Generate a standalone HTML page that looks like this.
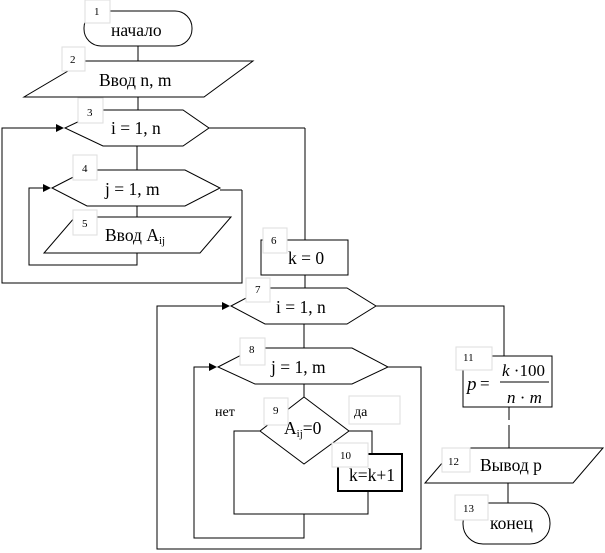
<!DOCTYPE html>
<html><head><meta charset="utf-8"><style>
html,body{margin:0;padding:0;background:#fff;}
svg{display:block;}
text{font-family:"Liberation Serif",serif;fill:#000;}
.n{font-size:11px;}
.t{font-size:17.5px;}
.lb{fill:#fff;stroke:#ddd;stroke-width:1;}
</style></head><body>
<svg width="605" height="553" viewBox="0 0 605 553" xmlns="http://www.w3.org/2000/svg">
<defs><marker id="a" markerWidth="8" markerHeight="8" refX="7" refY="4" orient="auto" markerUnits="userSpaceOnUse"><path d="M0,0 L8,4 L0,8 z" fill="#000"/></marker></defs>
<g fill="none" stroke="#000" stroke-width="1">
<rect x="84" y="11" width="108" height="35" rx="17" fill="#fff"/>
<line x1="138" y1="46" x2="138" y2="61"/>
<polygon points="85,61 253,61 204,97 24,97" fill="#fff"/>
<line x1="138" y1="97" x2="138" y2="110"/>
<polygon points="65,128 103,110 183,110 209,128 183,146 103,146" fill="#fff"/>
<line x1="209" y1="128" x2="305" y2="128"/>
<line x1="305" y1="128" x2="305" y2="240"/>
<line x1="137" y1="146" x2="137" y2="170"/>
<polyline points="242,190 242,283 2,283 2,128 63,128" marker-end="url(#a)"/>
<polygon points="52,188 87,170 185,170 220,188 185,206 87,206" fill="#fff"/>
<line x1="220" y1="190" x2="242" y2="190"/>
<line x1="137" y1="206" x2="137" y2="217"/>
<polygon points="75,217 231,217 200,253 44,253" fill="#fff"/>
<polyline points="137,253 137,265 29,265 29,188 50,188" marker-end="url(#a)"/>
<rect x="261" y="240" width="87" height="35" fill="#fff"/>
<line x1="305" y1="275" x2="305" y2="288"/>
<polygon points="231,306 265,288 347,288 376,306 347,324 265,324" fill="#fff"/>
<polyline points="376,306 504,306 504,356"/>
<line x1="304" y1="324" x2="304" y2="348"/>
<polyline points="388,367 421,367 421,549 157,549 157,306 229,306" marker-end="url(#a)"/>
<polygon points="218,367 255,348 352,348 388,367 352,384 255,384" fill="#fff"/>
<line x1="304" y1="384" x2="304" y2="397"/>
<polygon points="304,397 349,431 304,464 260,431" fill="#fff"/>
<polyline points="349,431 372,431 372,454"/>
<polyline points="368,491 368,514 234,514 234,431 260,431"/>
<polyline points="304,514 304,538 194,538 194,367 216,367" marker-end="url(#a)"/>
<rect x="338" y="454" width="64" height="37" fill="#fff" stroke-width="2"/>
<rect x="463" y="356" width="89" height="51" fill="#fff"/>
<line x1="509" y1="407" x2="509" y2="420"/>
<line x1="509" y1="425" x2="509" y2="448"/>
<polygon points="455,448 603,448 573,483 425,483" fill="#fff"/>
<line x1="508" y1="483" x2="508" y2="503"/>
<rect x="463" y="503" width="87" height="41" rx="20" fill="#fff"/>
</g>
<rect class="lb" x="85" y="0" width="25" height="23"/>
<rect class="lb" x="62" y="47" width="23" height="24"/>
<rect class="lb" x="78" y="98" width="25" height="25"/>
<rect class="lb" x="73" y="155" width="24" height="25"/>
<rect class="lb" x="73" y="210" width="24" height="25"/>
<rect class="lb" x="263" y="228" width="24" height="25"/>
<rect class="lb" x="246" y="278" width="24" height="24"/>
<rect class="lb" x="240" y="338" width="25" height="27"/>
<rect class="lb" x="264" y="398" width="24" height="27"/>
<rect class="lb" x="349" y="396" width="51" height="28"/>
<rect class="lb" x="332" y="443" width="36" height="24"/>
<rect class="lb" x="456" y="347" width="36" height="23"/>
<rect class="lb" x="442" y="448" width="28" height="24"/>
<rect class="lb" x="455" y="495" width="33" height="25"/>
<text class="n" x="94" y="15">1</text>
<text class="n" x="70" y="63">2</text>
<text class="n" x="87" y="116">3</text>
<text class="n" x="82" y="172">4</text>
<text class="n" x="82" y="227">5</text>
<text class="n" x="271" y="244">6</text>
<text class="n" x="255" y="293">7</text>
<text class="n" x="249" y="353">8</text>
<text class="n" x="273" y="414">9</text>
<text class="n" x="340" y="459">10</text>
<text class="n" x="463" y="361">11</text>
<text class="n" x="448" y="465">12</text>
<text class="n" x="463" y="512">13</text>
<text class="t" x="111" y="36">начало</text>
<text class="t" x="99" y="86">Ввод n, m</text>
<text class="t" x="111" y="134">i = 1, n</text>
<text class="t" x="105" y="195">j = 1, m</text>
<text class="t" x="105" y="241">Ввод A<tspan font-size="11" dy="3">ij</tspan></text>
<text class="t" x="288" y="264">k = 0</text>
<text class="t" x="276" y="313">i = 1, n</text>
<text class="t" x="271" y="373">j = 1, m</text>
<text style="font-size:14px" x="215" y="416">нет</text>
<text style="font-size:14px" x="354" y="416">да</text>
<text class="t" x="284" y="434">A<tspan font-size="11" dy="3">ij</tspan><tspan dy="-3">=0</tspan></text>
<text class="t" x="349" y="481">k=k+1</text>
<text style="font-size:19px;font-style:italic" x="467" y="390">p</text>
<text style="font-size:17px" x="480" y="389">=</text>
<text style="font-size:17px" x="502" y="376"><tspan font-style="italic">k</tspan> ·100</text>
<line x1="500" y1="382" x2="549" y2="382" stroke="#000" stroke-width="1"/>
<text style="font-size:17px" x="507" y="403"><tspan font-style="italic">n</tspan> · <tspan font-style="italic">m</tspan></text>
<text class="t" x="480" y="471">Вывод р</text>
<text class="t" x="490" y="529">конец</text>
</svg>
</body></html>
